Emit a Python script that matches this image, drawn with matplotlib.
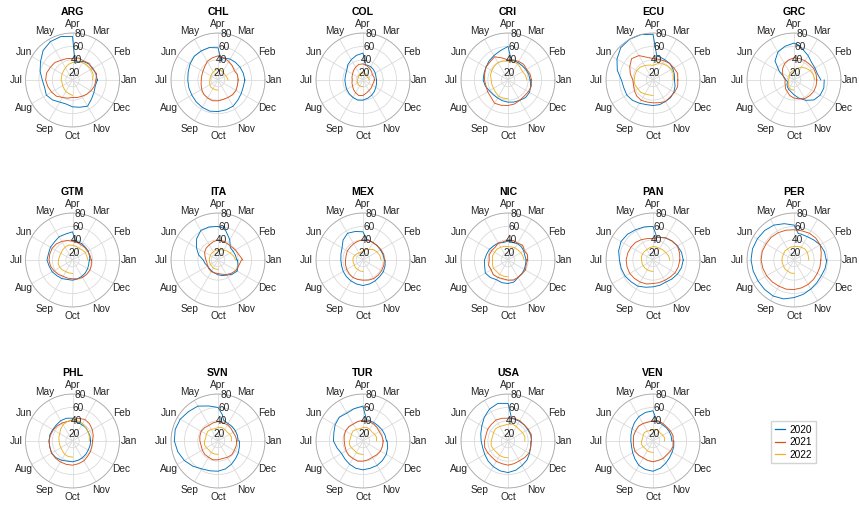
import numpy as np
import matplotlib
matplotlib.use("Agg")
import matplotlib.pyplot as plt
from matplotlib.lines import Line2D

plt.rcParams["font.family"] = ["Liberation Sans", "DejaVu Sans"]

months = ["Jan", "Feb", "Mar", "Apr", "May", "Jun",
          "Jul", "Aug", "Sep", "Oct", "Nov", "Dec"]
countries = ["ARG", "CHL", "COL", "CRI", "ECU", "GRC",
             "GTM", "ITA", "MEX", "NIC", "PAN", "PER",
             "PHL", "SVN", "TUR", "USA", "VEN"]
years = ["2020", "2021", "2022"]
r_ticks = [20, 40, 60, 80]

# Semi-monthly samples (1st and mid-month). 2020 has an extra sample on
# 23 March, 2021 covers the whole year, 2022 runs from 1 Jan to 30 Sep.
y2020 = {
    "ARG": [47, 46, 45, 44, 42, 38, 35, 75, 77, 76, 72, 65, 60, 55, 53, 55, 52, 48, 47, 50, 52, 55, 50, 47, 45, 47],
    "CHL": [50, 49, 48, 47, 46, 44, 40, 58, 60, 60, 60, 58, 56, 55, 55, 55, 56, 57, 58, 57, 56, 55, 52, 50, 49, 50],
    "COL": [30, 30, 31, 32, 33, 33, 33, 50, 48, 45, 42, 38, 37, 37, 37, 38, 39, 40, 41, 40, 38, 36, 34, 32, 31, 30],
    "CRI": [43, 42, 41, 40, 40, 40, 40, 60, 55, 52, 50, 48, 47, 47, 45, 42, 41, 41, 42, 43, 44, 45, 47, 47, 45, 43],
    "ECU": [42, 43, 44, 45, 45, 46, 46, 78, 80, 80, 78, 72, 65, 57, 55, 55, 53, 50, 48, 48, 48, 47, 47, 46, 44, 42],
    "GRC": [50, 46, 46, 47, 52, 58, 62, 65, 62, 58, 50, 35, 25, 22, 20, 22, 24, 26, 28, 32, 38, 45, 52, 55, 56, 55],
    "GTM": [36, 36, 37, 37, 38, 38, 38, 52, 50, 50, 48, 48, 47, 48, 46, 45, 43, 42, 40, 40, 39, 38, 37, 36, 35, 35],
    "ITA": [38, 37, 36, 36, 45, 55, 58, 60, 61, 61, 55, 47, 40, 32, 30, 28, 28, 29, 30, 32, 34, 36, 40, 43, 41, 39],
    "MEX": [42, 41, 40, 40, 40, 41, 42, 52, 54, 56, 52, 46, 44, 43, 43, 44, 45, 46, 47, 48, 47, 46, 45, 45, 44, 43],
    "NIC": [37, 36, 37, 38, 38, 37, 37, 38, 37, 39, 40, 42, 43, 45, 46, 49, 47, 44, 45, 45, 44, 40, 39, 38, 37, 37],
    "PAN": [55, 54, 52, 50, 48, 45, 45, 60, 61, 62, 64, 65, 63, 60, 59, 58, 56, 55, 52, 50, 49, 48, 50, 52, 54, 55],
    "PER": [58, 57, 55, 52, 50, 50, 50, 62, 66, 70, 72, 73, 74, 74, 73, 72, 72, 72, 70, 66, 63, 60, 58, 57, 58, 59],
    "PHL": [37, 37, 37, 38, 38, 39, 40, 44, 45, 45, 44, 44, 45, 45, 45, 46, 45, 43, 41, 41, 40, 39, 38, 37, 37, 37],
    "SVN": [40, 40, 40, 40, 40, 42, 50, 60, 64, 70, 72, 75, 76, 75, 72, 68, 63, 58, 56, 55, 53, 50, 47, 45, 43, 42],
    "TUR": [45, 44, 43, 42, 42, 42, 42, 62, 60, 58, 60, 58, 55, 54, 50, 47, 48, 50, 52, 53, 52, 52, 51, 50, 48, 46],
    "USA": [45, 45, 44, 44, 44, 44, 44, 66, 68, 65, 60, 55, 52, 50, 49, 50, 52, 54, 56, 57, 55, 52, 50, 47, 45, 44],
    "VEN": [38, 38, 38, 38, 38, 40, 42, 55, 54, 52, 49, 46, 44, 43, 43, 45, 48, 52, 54, 55, 52, 48, 45, 43, 42, 41],
}
y2021 = {
    "ARG": [45, 47, 44, 45, 43, 44, 42, 43, 44, 47, 48, 50, 50, 48, 46, 44, 40, 38, 36, 37, 38, 40, 42, 44, 45],
    "CHL": [40, 40, 38, 40, 42, 44, 46, 44, 42, 38, 36, 35, 35, 36, 38, 40, 41, 42, 41, 40, 40, 41, 41, 40, 40],
    "COL": [27, 27, 26, 28, 30, 32, 34, 34, 32, 30, 28, 27, 26, 27, 28, 30, 32, 34, 33, 30, 28, 27, 26, 26, 27],
    "CRI": [45, 44, 42, 43, 42, 41, 40, 44, 50, 48, 48, 46, 45, 44, 45, 46, 50, 49, 48, 47, 45, 44, 45, 46, 45],
    "ECU": [47, 48, 46, 45, 43, 42, 42, 45, 52, 55, 50, 45, 40, 40, 42, 44, 45, 44, 44, 45, 47, 46, 47, 48, 47],
    "GRC": [44, 44, 44, 43, 43, 43, 43, 41, 38, 34, 30, 26, 23, 24, 25, 28, 30, 34, 37, 39, 42, 43, 44, 44, 44],
    "GTM": [38, 37, 36, 36, 36, 37, 38, 40, 42, 44, 45, 45, 45, 44, 42, 40, 38, 38, 38, 39, 40, 40, 40, 39, 38],
    "ITA": [47, 42, 40, 38, 38, 39, 40, 38, 36, 35, 33, 30, 28, 27, 28, 29, 30, 30, 30, 32, 35, 38, 41, 42, 45],
    "MEX": [42, 42, 41, 40, 40, 40, 40, 39, 38, 37, 37, 36, 36, 37, 38, 39, 40, 40, 40, 41, 42, 42, 42, 42, 42],
    "NIC": [39, 40, 38, 41, 39, 40, 40, 38, 39, 37, 38, 39, 38, 40, 39, 41, 40, 39, 40, 41, 40, 39, 40, 38, 39],
    "PAN": [50, 51, 52, 50, 48, 45, 42, 43, 45, 47, 48, 49, 50, 50, 50, 49, 48, 47, 45, 45, 45, 46, 48, 49, 50],
    "PER": [50, 52, 55, 56, 56, 55, 55, 56, 57, 58, 58, 59, 59, 58, 57, 56, 55, 55, 54, 53, 52, 51, 50, 50, 50],
    "PHL": [40, 42, 44, 46, 47, 45, 41, 40, 41, 42, 43, 44, 45, 45, 46, 46, 46, 46, 46, 45, 44, 42, 41, 40, 40],
    "SVN": [38, 37, 36, 37, 38, 38, 39, 38, 37, 38, 39, 38, 37, 36, 37, 38, 38, 39, 38, 37, 38, 39, 38, 38, 38],
    "TUR": [40, 39, 38, 39, 40, 40, 41, 40, 39, 40, 40, 39, 38, 38, 39, 40, 40, 41, 40, 39, 38, 39, 40, 40, 40],
    "USA": [45, 46, 45, 44, 45, 45, 44, 45, 46, 45, 45, 44, 45, 46, 45, 44, 45, 45, 46, 45, 44, 45, 46, 45, 45],
    "VEN": [40, 41, 40, 39, 40, 41, 40, 39, 40, 41, 40, 40, 39, 40, 41, 40, 39, 40, 41, 40, 40, 39, 40, 41, 40],
}
y2022 = {
    "ARG": [40, 42, 42, 41, 40, 38, 36, 34, 31, 29, 28, 27, 27, 26, 27, 28, 30, 31, 33],
    "CHL": [25, 24, 23, 23, 24, 25, 26, 25, 24, 23, 22, 22, 22, 23, 24, 25, 25, 25, 25],
    "COL": [19, 19, 18, 18, 19, 20, 21, 21, 20, 19, 18, 18, 18, 19, 19, 20, 20, 20, 20],
    "CRI": [38, 37, 35, 36, 38, 38, 38, 39, 40, 39, 38, 37, 35, 35, 35, 36, 38, 38, 38],
    "ECU": [40, 42, 42, 40, 38, 35, 32, 33, 35, 37, 38, 38, 38, 38, 36, 36, 34, 33, 33],
    "GRC": [41, 40, 38, 35, 32, 28, 25, 23, 22, 20, 18, 18, 18, 19, 20, 22, 24, 25, 25],
    "GTM": [33, 32, 32, 31, 30, 31, 32, 33, 32, 31, 30, 30, 31, 32, 32, 31, 30, 30, 30],
    "ITA": [36, 34, 31, 29, 27, 26, 25, 25, 24, 24, 23, 23, 23, 23, 23, 23, 24, 24, 24],
    "MEX": [37, 36, 34, 32, 28, 26, 23, 22, 22, 23, 24, 25, 25, 25, 25, 26, 26, 27, 27],
    "NIC": [34, 33, 32, 31, 31, 30, 30, 31, 32, 33, 33, 34, 33, 34, 35, 34, 35, 35, 35],
    "PAN": [35, 34, 32, 31, 30, 30, 30, 29, 28, 28, 28, 28, 27, 27, 27, 27, 27, 27, 27],
    "PER": [32, 32, 33, 33, 32, 31, 30, 30, 29, 29, 28, 28, 28, 28, 28, 29, 29, 30, 30],
    "PHL": [35, 36, 37, 38, 40, 41, 42, 40, 38, 35, 32, 31, 30, 30, 30, 31, 33, 34, 34],
    "SVN": [30, 31, 30, 29, 30, 31, 30, 29, 30, 31, 30, 29, 30, 31, 30, 29, 30, 30, 30],
    "TUR": [30, 31, 30, 29, 30, 31, 30, 29, 30, 31, 30, 29, 30, 31, 30, 29, 30, 30, 30],
    "USA": [35, 36, 35, 34, 35, 36, 35, 34, 35, 36, 35, 34, 35, 36, 35, 34, 35, 35, 35],
    "VEN": [27, 28, 27, 26, 27, 28, 27, 26, 27, 28, 27, 26, 27, 28, 27, 26, 27, 27, 27],
}
series = [y2020, y2021, y2022]
colors = ["#0072BD", "#D95319", "#EDB120"]

# sample days of year
grid_days = np.arange(25) * 365 / 24
days = [np.concatenate([grid_days[:6], [82.0], grid_days[6:]]),
        grid_days, grid_days[:19]]

W, H = 859, 505
fig = plt.figure(figsize=(W / 100, H / 100), dpi=100)

col_x = [72.5, 218, 363, 508, 653, 794]
row_y = [80, 260, 441]
R = 47
text_col = "#262626"
fs = 7.3

for i, code in enumerate(countries):
    row, col = divmod(i, 6)
    cx, cy = col_x[col], row_y[row]
    ax = fig.add_axes([(cx - R) / W, 1 - (cy + R) / H, 2 * R / W, 2 * R / H],
                      projection="polar")
    ax.set_theta_zero_location("E")
    ax.set_theta_direction(1)
    ax.set_rlim(10, 80)
    ax.set_thetagrids(np.arange(0, 360, 30), labels=[])
    ax.set_rgrids(r_ticks, labels=[])
    ax.grid(color="#dadada", lw=0.6)
    ax.spines["polar"].set_color("#a8a8a8")
    ax.spines["polar"].set_linewidth(0.6)
    ax.tick_params(length=0)

    for data, d, c in zip(series, days, colors):
        vals = np.asarray(data[code], dtype=float)
        theta = 2 * np.pi * d / 365
        ax.plot(theta, vals, color=c, lw=0.65, clip_on=False)

    for m, name in enumerate(months):
        ax.text(np.deg2rad(30 * m), 94, name, ha="center", va="center",
                fontsize=fs, color=text_col, clip_on=False)
    for v in r_ticks:
        ax.text(np.deg2rad(80), v, str(v), ha="center", va="center",
                fontsize=fs, color=text_col, zorder=5)
    ax.text(0.5, 1.225, code, transform=ax.transAxes, ha="center",
            va="center", fontsize=7.6, fontweight="bold", color="#000000")

handles = [Line2D([0], [0], color=c, lw=0.9) for c in colors]
fig.legend(handles, years, loc="upper left",
           bbox_to_anchor=(771 / W, 1 - 421 / H), fontsize=7.3,
           frameon=True, fancybox=False, edgecolor="#c8c8c8",
           handlelength=1.0, handletextpad=0.5, borderpad=0.35,
           labelspacing=0.25, borderaxespad=0)

fig.savefig("out.png", dpi=100)
